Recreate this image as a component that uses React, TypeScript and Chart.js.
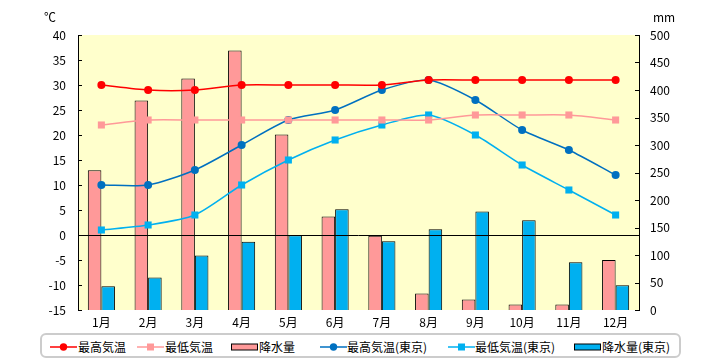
import React, { useEffect, useRef } from "react";
import { Chart, registerables } from "chart.js";

Chart.register(...registerables);

const months = ["1月", "2月", "3月", "4月", "5月", "6月", "7月", "8月", "9月", "10月", "11月", "12月"];
const maxTemp = [30, 29, 29, 30, 30, 30, 30, 31, 31, 31, 31, 31];
const minTemp = [22, 23, 23, 23, 23, 23, 23, 23, 24, 24, 24, 23];
const rain = [254, 381, 421, 472, 319, 170, 135, 30, 19, 10, 10, 91];
const tokyoMax = [10, 10, 13, 18, 23, 25, 29, 31, 27, 21, 17, 12];
const tokyoMin = [1, 2, 4, 10, 15, 19, 22, 24, 20, 14, 9, 4];
const tokyoRain = [43, 59, 99, 124, 136, 183, 125, 147, 179, 163, 87, 45];

const FONT = '"Noto Sans CJK JP", "Noto Sans", sans-serif';

const legendItems = [
  { label: "最高気温", kind: "circle", color: "#FF0000", sx: 50, tx: 78 },
  { label: "最低気温", kind: "rect", color: "#FF9999", sx: 137, tx: 165 },
  { label: "降水量", kind: "bar", color: "#FF9999", sx: 231, tx: 259 },
  { label: "最高気温(東京)", kind: "circle", color: "#0070C0", sx: 320, tx: 347 },
  { label: "最低気温(東京)", kind: "rect", color: "#00B0F0", sx: 448, tx: 475 },
  { label: "降水量(東京)", kind: "bar", color: "#00B0F0", sx: 574, tx: 602 },
];

const bgPlugin = {
  id: "bgPlugin",
  beforeDraw(chart: any) {
    const { ctx, chartArea } = chart;
    ctx.save();
    ctx.fillStyle = "#FFFFCC";
    ctx.fillRect(chartArea.left, chartArea.top, chartArea.right - chartArea.left, chartArea.bottom - chartArea.top);
    ctx.restore();
  },
  afterDatasetsDraw(chart: any) {
    const { ctx, chartArea, scales } = chart;
    ctx.save();
    ctx.strokeStyle = "#000";
    ctx.lineWidth = 1;
    const y0 = Math.round(scales.y.getPixelForValue(0)) + 0.5;
    ctx.beginPath();
    ctx.moveTo(chartArea.left, y0);
    ctx.lineTo(chartArea.right, y0);
    ctx.stroke();
    ctx.restore();
  },
  afterDraw(chart: any) {
    const { ctx, chartArea, scales } = chart;
    ctx.save();
    ctx.strokeStyle = "#000";
    ctx.lineWidth = 1;
    ctx.beginPath();
    scales.y.ticks.forEach((t: any) => {
      const p = Math.round(scales.y.getPixelForValue(t.value)) + 0.5;
      ctx.moveTo(chartArea.left, p);
      ctx.lineTo(chartArea.left + 4, p);
    });
    scales.y1.ticks.forEach((t: any) => {
      const p = Math.round(scales.y1.getPixelForValue(t.value)) + 0.5;
      ctx.moveTo(chartArea.right - 4, p);
      ctx.lineTo(chartArea.right, p);
    });
    ctx.stroke();
    ctx.restore();
  },
};

function Symbol({ kind, color }: { kind: string; color: string }) {
  return (
    <svg width={27} height={12} style={{ display: "block" }}>
      {kind === "bar" ? (
        <rect x={0.5} y={3} width={26} height={6} fill={color} stroke="#000" strokeWidth={1} />
      ) : (
        <>
          <line x1={0} y1={6} x2={27} y2={6} stroke={color} strokeWidth={1.5} />
          {kind === "circle" ? (
            <circle cx={13.5} cy={6} r={3.7} fill={color} />
          ) : (
            <rect x={10} y={2.5} width={7} height={7} fill={color} />
          )}
        </>
      )}
    </svg>
  );
}

export default function App() {
  const ref = useRef<HTMLCanvasElement | null>(null);

  useEffect(() => {
    if (!ref.current) return;
    const lineCommon = {
      type: "line" as const,
      yAxisID: "y",
      borderWidth: 1.5,
      tension: 0.25,
      pointBorderWidth: 0,
      order: 0,
      fill: false,
    };
    const chart = new Chart(ref.current, {
      type: "bar",
      data: {
        labels: months,
        datasets: [
          {
            type: "bar",
            label: "降水量",
            data: rain,
            yAxisID: "y1",
            backgroundColor: "#FF9999",
            borderColor: "#000",
            borderWidth: 1,
            order: 1,
          },
          {
            type: "bar",
            label: "降水量(東京)",
            data: tokyoRain,
            yAxisID: "y1",
            backgroundColor: "#00B0F0",
            borderColor: "#000",
            borderWidth: 1,
            order: 1,
          },
          {
            ...lineCommon,
            label: "最高気温",
            data: maxTemp,
            borderColor: "#FF0000",
            backgroundColor: "#FF0000",
            pointBackgroundColor: "#FF0000",
            pointStyle: "circle",
            pointRadius: 4,
          },
          {
            ...lineCommon,
            label: "最低気温",
            data: minTemp,
            borderColor: "#FF9999",
            backgroundColor: "#FF9999",
            pointBackgroundColor: "#FF9999",
            pointStyle: "rect",
            pointRadius: 5,
          },
          {
            ...lineCommon,
            label: "最高気温(東京)",
            data: tokyoMax,
            borderColor: "#0070C0",
            backgroundColor: "#0070C0",
            pointBackgroundColor: "#0070C0",
            pointStyle: "circle",
            pointRadius: 4,
          },
          {
            ...lineCommon,
            label: "最低気温(東京)",
            data: tokyoMin,
            borderColor: "#00B0F0",
            backgroundColor: "#00B0F0",
            pointBackgroundColor: "#00B0F0",
            pointStyle: "rect",
            pointRadius: 5,
          },
        ] as any,
      },
      options: {
        responsive: false,
        devicePixelRatio: 1,
        animation: false,
        datasets: { bar: { categoryPercentage: 0.58, barPercentage: 1 } },
        layout: { padding: { top: 35, left: 0, right: 0, bottom: 0 } },
        plugins: { legend: { display: false }, tooltip: { enabled: false } },
        scales: {
          x: {
            offset: true,
            grid: { display: false, drawTicks: false },
            border: { display: false },
            ticks: { color: "#000", font: { family: FONT, size: 12 }, padding: 5 },
            afterFit: (s: any) => {
              s.height = 20;
            },
          },
          y: {
            position: "left",
            min: -15,
            max: 40,
            ticks: { stepSize: 5, color: "#000", font: { family: FONT, size: 12 }, padding: 12 },
            grid: { display: false, drawTicks: false },
            border: { display: true, color: "#000", width: 1 },
            afterFit: (s: any) => {
              s.width = 78;
            },
          },
          y1: {
            position: "right",
            min: 0,
            max: 500,
            ticks: { stepSize: 50, color: "#000", font: { family: FONT, size: 12 }, padding: 11 },
            grid: { display: false, drawTicks: false },
            border: { display: true, color: "#000", width: 1 },
            afterFit: (s: any) => {
              s.width = 81;
            },
          },
        },
      },
      plugins: [bgPlugin],
    });
    return () => chart.destroy();
  }, []);

  return (
    <div
      style={{
        position: "absolute",
        left: 0,
        top: 0,
        width: 720,
        height: 360,
        background: "#fff",
        fontFamily: FONT,
        fontSize: 12,
        color: "#000",
      }}
    >
      <canvas ref={ref} width={720} height={330} style={{ position: "absolute", left: 0, top: 0 }} />
      <span style={{ position: "absolute", left: 44, top: 9, lineHeight: "16px" }}>℃</span>
      <span style={{ position: "absolute", left: 653, top: 9, lineHeight: "16px" }}>mm</span>
      <div
        style={{
          position: "absolute",
          left: 40,
          top: 333,
          width: 641,
          height: 25,
          border: "2px solid #CCCCCC",
          borderRadius: 6,
          boxSizing: "border-box",
        }}
      />
      {legendItems.map((it) => (
        <React.Fragment key={it.label}>
          <div style={{ position: "absolute", left: it.sx, top: 341 }}>
            <Symbol kind={it.kind} color={it.color} />
          </div>
          <span style={{ position: "absolute", left: it.tx, top: 339, lineHeight: "16px", whiteSpace: "nowrap" }}>
            {it.label}
          </span>
        </React.Fragment>
      ))}
    </div>
  );
}
